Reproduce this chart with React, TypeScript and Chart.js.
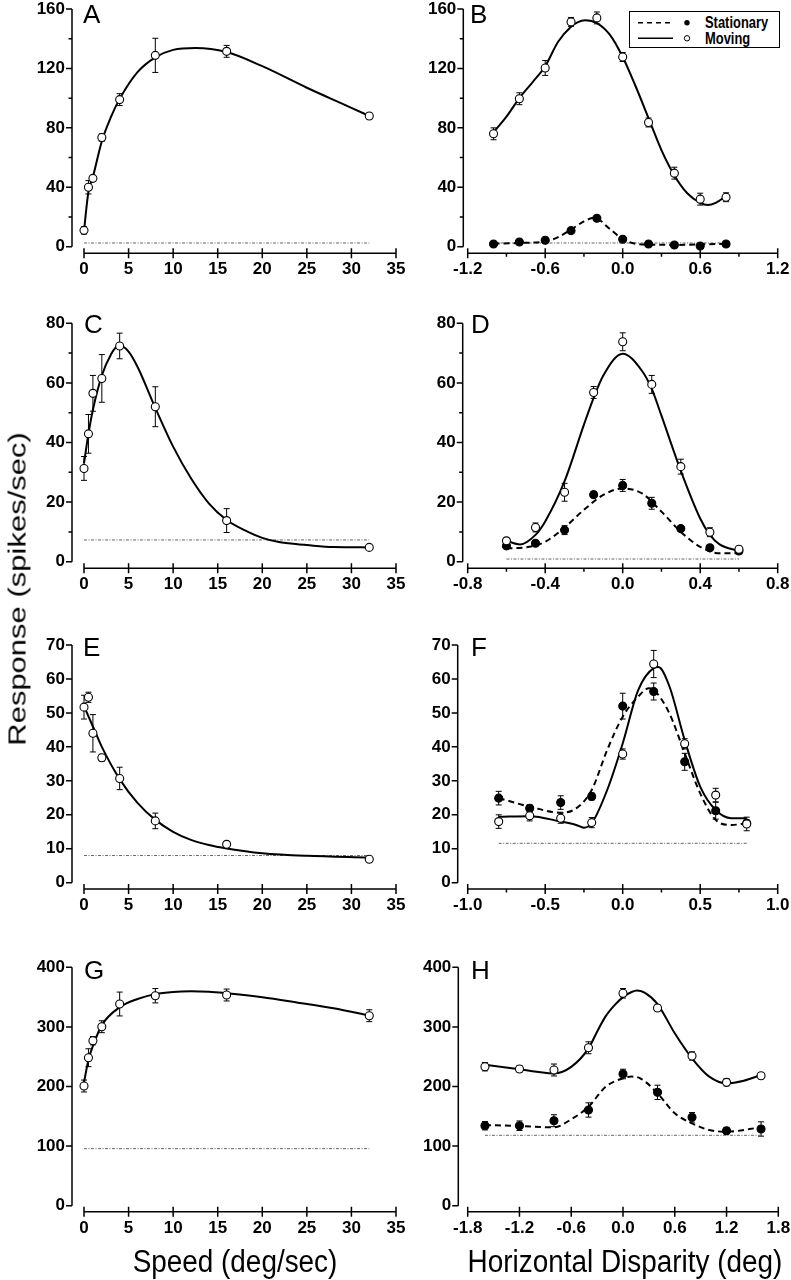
import React, { useEffect, useRef } from 'react';
import { Chart, registerables } from 'chart.js';

Chart.register(...registerables);

const FONT = '"Liberation Sans", Arial, Helvetica, sans-serif';

// ---------------- Speed panels (A, C, E, G) ----------------
const speedX = [0, 0.5, 1, 2, 4, 8, 16, 32];
const speedTicks = [0, 5, 10, 15, 20, 25, 30, 35];
const speedBaseX = [0, 32];

// A
const aResp = [11, 40, 46, 73.5, 99, 128.8, 131.5, 88];
const aErr = [2.5, 4.5, 2, 2.5, 4, 11.5, 4, 2];
const aFitX = [0, 0.25, 0.5, 1, 2, 3, 4, 6, 8, 10, 12.5, 16, 20, 25, 30, 32];
const aFitY = [10, 25, 37, 47, 71, 87, 99.5, 117.5, 127.5, 132.5, 133.8, 131, 121.5, 107, 93.5, 88];
const aBase = [2.5, 2.5];
const aTicksY = [0, 40, 80, 120, 160];
const aMinorY = [20, 60, 100, 140];

// C
const cResp = [31.3, 42.9, 56.5, 61.5, 72.4, 52, 13.8, 4.8];
const cErr = [4, 6.5, 6, 8, 4.3, 6.7, 4, 0.8];
const cFitX = [0, 0.5, 1, 2, 3, 3.9, 5, 6, 8, 10, 12, 14, 16, 18, 20, 22, 25, 28, 32];
const cFitY = [33, 43, 51, 62.5, 69.4, 72.6, 70.5, 65.4, 51.6, 38.6, 28, 19.6, 14, 10.6, 8, 6.5, 5.6, 4.9, 4.8];
const cBase = [7.3, 7.3];
const cTicksY = [0, 20, 40, 60, 80];
const cMinorY = [10, 30, 50, 70];

// E
const eResp = [51.7, 54.6, 44, 36.8, 30.7, 18.2, 11.3, 6.9];
const eErr = [3.5, 1.5, 5.5, 1, 3.3, 2.3, 0.8, 0.5];
const eFitX = [0, 0.5, 1, 2, 4, 6, 8, 10, 12, 14, 16, 20, 25, 32];
const eFitY = [52, 49, 46, 40, 30.5, 23.5, 18.5, 15, 12.6, 11.1, 10.1, 8.7, 7.9, 7.4];
const eBase = [8, 8];
const eTicksY = [0, 10, 20, 30, 40, 50, 60, 70];

// G
const gResp = [200.8, 248.3, 276.8, 300.3, 338.4, 352.3, 353.5, 318.8];
const gErr = [10, 15, 7, 10, 20, 12, 10, 10];
const gFitX = [0, 0.5, 1, 2, 4, 6, 8, 10, 12, 14, 16, 20, 24, 28, 32];
const gFitY = [207, 245, 268, 303, 333, 346.8, 355, 358.6, 359.7, 359, 356.4, 349.7, 340.7, 331.2, 319];
const gBase = [95.7, 95.7];
const gTicksY = [0, 100, 200, 300, 400];

// ---------------- Disparity panels (B, D, F, H) ----------------
// B
const bX = [-1.0, -0.8, -0.6, -0.4, -0.2, 0, 0.2, 0.4, 0.6, 0.8];
const bMoving = [76, 99.6, 120.3, 151.3, 154, 127.7, 83.6, 49.5, 32, 33.3];
const bMovErr = [4, 4, 5, 3, 4, 3, 3, 4, 4, 3];
const bStat = [1.8, 3.2, 4.3, 10.8, 19.1, 5, 1.8, 1.1, 0.5, 1.8];
const bStatErr = [1, 1, 1, 1, 1.2, 1, 1, 1, 1.5, 1];
const bMovFitX = [-1.0, -0.9, -0.8, -0.7, -0.6, -0.5, -0.4, -0.35, -0.29, -0.2, -0.1, 0, 0.1, 0.2, 0.3, 0.4, 0.5, 0.6, 0.66, 0.72, 0.8];
const bMovFitY = [77, 87.5, 100, 110.5, 121.5, 138, 148, 151, 152.4, 150.5, 142.7, 127.7, 108, 86.6, 65, 48, 36, 29.5, 28, 29.5, 34];
const bStatFitX = [-1.0, -0.8, -0.6, -0.5, -0.4, -0.3, -0.22, -0.1, 0, 0.1, 0.2, 0.4, 0.6, 0.8];
const bStatFitY = [2, 2.5, 3.5, 6.5, 11.5, 17, 19.5, 12, 5, 2, 1.5, 1.2, 1.5, 2];
const bBaseX = [-1.0, 0.8];
const bBase = [2.5, 2.5];
const bTicksX = [-1.2, -0.6, 0, 0.6, 1.2];
const bMinorX = [-0.9, -0.3, 0.3, 0.9];

// D
const dX = [-0.6, -0.45, -0.3, -0.15, 0, 0.15, 0.3, 0.45, 0.6];
const dMoving = [7, 11.5, 23.3, 56.8, 73.8, 59.5, 31.9, 9.9, 4.2];
const dMovErr = [1, 1.5, 3, 2, 3, 3, 2.5, 1.5, 1];
const dStat = [5.3, 6.2, 10.6, 22.5, 25.6, 19.6, 11.1, 4.7, 3.6];
const dStatErr = [0.8, 0.8, 1.5, 1, 2, 2, 1, 0.8, 0.8];
const dMovFitX = [-0.6, -0.53, -0.45, -0.4, -0.3, -0.2, -0.15, -0.1, 0, 0.1, 0.15, 0.2, 0.3, 0.4, 0.45, 0.5, 0.6];
const dMovFitY = [7, 5.8, 9, 13.5, 27, 46, 55, 62.5, 69.8, 64, 58, 49, 30.5, 14.5, 9, 5.8, 3.6];
const dStatFitX = [-0.6, -0.5, -0.4, -0.3, -0.2, -0.1, 0, 0.1, 0.2, 0.3, 0.4, 0.5, 0.6];
const dStatFitY = [4.5, 4.8, 6.7, 11.5, 17.4, 22.4, 24.6, 22.9, 16.8, 10, 5, 2.8, 2.8];
const dBaseX = [-0.6, 0.6];
const dBase = [0.9, 0.9];
const dTicksX = [-0.8, -0.4, 0, 0.4, 0.8];
const dMinorX = [-0.6, -0.2, 0.2, 0.6];

// F
const fX = [-0.8, -0.6, -0.4, -0.2, 0, 0.2, 0.4, 0.6, 0.8];
const fMoving = [18, 19.7, 19, 17.7, 37.9, 64.4, 40.9, 25.8, 17.3];
const fMovErr = [2, 1.5, 1.5, 1.5, 1.5, 4, 1.5, 2, 2];
const fStat = [24.9, 21.9, 23.6, 25.4, 52, 56.3, 35.6, 21.2, 17.5];
const fStatErr = [2, 1, 2, 1, 3.8, 2.5, 2.5, 2.5, 1];
const fMovFitX = [-0.8, -0.6, -0.4, -0.3, -0.25, -0.2, -0.1, 0, 0.1, 0.2, 0.23, 0.3, 0.4, 0.5, 0.6, 0.7, 0.8];
const fMovFitY = [19.4, 19.6, 18, 17, 16.2, 17.5, 27.3, 41, 56.7, 63.2, 63.5, 58, 42, 28.3, 21.4, 19, 19];
const fStatFitX = [-0.8, -0.6, -0.4, -0.3, -0.2, -0.1, 0, 0.1, 0.17, 0.2, 0.3, 0.4, 0.5, 0.6, 0.7, 0.8];
const fStatFitY = [24.9, 22.4, 20.6, 21.9, 27.3, 39.1, 48.9, 54.8, 57.3, 56.8, 50, 38.1, 26.3, 18.5, 17, 17.5];
const fBaseX = [-0.8, 0.8];
const fBase = [11.6, 11.6];
const fTicksX = [-1, -0.5, 0, 0.5, 1];
const fMinorX = [-0.75, -0.25, 0.25, 0.75];

// H
const hX = [-1.6, -1.2, -0.8, -0.4, 0, 0.4, 0.8, 1.2, 1.6];
const hMoving = [233.2, 229.4, 227.7, 265, 356.4, 331.7, 251.2, 207, 218.1];
const hMovErr = [7, 5, 10, 10, 8, 5, 7, 6, 5];
const hStat = [134.2, 134.2, 142.6, 160.6, 221, 190.2, 148.3, 125.8, 128.7];
const hStatErr = [7, 8, 10, 12, 8, 12, 8, 5, 12];
const hMovFitX = [-1.6, -1.2, -1.0, -0.8, -0.6, -0.4, -0.3, -0.2, -0.1, 0, 0.1, 0.16, 0.25, 0.4, 0.6, 0.8, 1.0, 1.2, 1.4, 1.6];
const hMovFitY = [236.6, 229, 224.8, 222, 233, 264, 292, 318, 336, 350, 358.5, 361, 357.5, 338.4, 289.3, 247.3, 216.5, 205.4, 209.7, 219.3];
const hStatFitX = [-1.6, -1.2, -0.8, -0.6, -0.4, -0.2, 0, 0.1, 0.2, 0.4, 0.6, 0.8, 1.0, 1.2, 1.6];
const hStatFitY = [135.4, 133.7, 131.5, 145, 166, 199.7, 213.8, 216.6, 213.8, 188.6, 155, 138.2, 127, 124.2, 131.5];
const hBaseX = [-1.6, 1.6];
const hBase = [118.1, 118.1];
const hTicksX = [-1.8, -1.2, -0.6, 0, 0.6, 1.2, 1.8];

// ---------------- Panel layout ----------------
type PointSet = { x: number[]; y: number[]; err: number[]; filled: boolean };
type Fit = { x: number[]; y: number[]; dashed: boolean };
type PanelDef = {
  id: string;
  axisX: number; axisY: number;
  px0: number; px1: number; py0: number; py1: number;
  xTicks: number[]; xMinor: number[]; xDec: number;
  yTicks: number[]; yMinor: number[];
  points: PointSet[];
  fits: Fit[];
  base: { x: number[]; y: number[] };
};

const ROWS = [
  { py1: 9, py0: 246.7, axisY: 253.3 },
  { py1: 323.3, py0: 561.7, axisY: 568.3 },
  { py1: 645, py0: 882.7, axisY: 889 },
  { py1: 967.3, py0: 1205.7, axisY: 1211.7 },
];

const LEFT = { axisX: 72, px0: 84, px1: 396 };

const PANELS: PanelDef[] = [
  {
    id: 'A', ...LEFT, ...ROWS[0], xTicks: speedTicks, xMinor: [], xDec: 0, yTicks: aTicksY, yMinor: aMinorY,
    points: [{ x: speedX, y: aResp, err: aErr, filled: false }],
    fits: [{ x: aFitX, y: aFitY, dashed: false }],
    base: { x: speedBaseX, y: aBase },
  },
  {
    id: 'B', axisX: 463.3, px0: 467.7, px1: 777.7, ...ROWS[0], xTicks: bTicksX, xMinor: bMinorX, xDec: 1, yTicks: aTicksY, yMinor: aMinorY,
    points: [{ x: bX, y: bMoving, err: bMovErr, filled: false }, { x: bX, y: bStat, err: bStatErr, filled: true }],
    fits: [{ x: bMovFitX, y: bMovFitY, dashed: false }, { x: bStatFitX, y: bStatFitY, dashed: true }],
    base: { x: bBaseX, y: bBase },
  },
  {
    id: 'C', ...LEFT, ...ROWS[1], xTicks: speedTicks, xMinor: [], xDec: 0, yTicks: cTicksY, yMinor: cMinorY,
    points: [{ x: speedX, y: cResp, err: cErr, filled: false }],
    fits: [{ x: cFitX, y: cFitY, dashed: false }],
    base: { x: speedBaseX, y: cBase },
  },
  {
    id: 'D', axisX: 462.7, px0: 467.7, px1: 777.7, ...ROWS[1], xTicks: dTicksX, xMinor: dMinorX, xDec: 1, yTicks: cTicksY, yMinor: cMinorY,
    points: [{ x: dX, y: dMoving, err: dMovErr, filled: false }, { x: dX, y: dStat, err: dStatErr, filled: true }],
    fits: [{ x: dMovFitX, y: dMovFitY, dashed: false }, { x: dStatFitX, y: dStatFitY, dashed: true }],
    base: { x: dBaseX, y: dBase },
  },
  {
    id: 'E', ...LEFT, ...ROWS[2], xTicks: speedTicks, xMinor: [], xDec: 0, yTicks: eTicksY, yMinor: [],
    points: [{ x: speedX, y: eResp, err: eErr, filled: false }],
    fits: [{ x: eFitX, y: eFitY, dashed: false }],
    base: { x: speedBaseX, y: eBase },
  },
  {
    id: 'F', axisX: 457.7, px0: 467.7, px1: 777.7, ...ROWS[2], xTicks: fTicksX, xMinor: fMinorX, xDec: 1, yTicks: eTicksY, yMinor: [],
    points: [{ x: fX, y: fMoving, err: fMovErr, filled: false }, { x: fX, y: fStat, err: fStatErr, filled: true }],
    fits: [{ x: fMovFitX, y: fMovFitY, dashed: false }, { x: fStatFitX, y: fStatFitY, dashed: true }],
    base: { x: fBaseX, y: fBase },
  },
  {
    id: 'G', ...LEFT, ...ROWS[3], xTicks: speedTicks, xMinor: [], xDec: 0, yTicks: gTicksY, yMinor: [],
    points: [{ x: speedX, y: gResp, err: gErr, filled: false }],
    fits: [{ x: gFitX, y: gFitY, dashed: false }],
    base: { x: speedBaseX, y: gBase },
  },
  {
    id: 'H', axisX: 458.3, px0: 467.7, px1: 778.3, ...ROWS[3], xTicks: hTicksX, xMinor: [], xDec: 1, yTicks: gTicksY, yMinor: [],
    points: [{ x: hX, y: hMoving, err: hMovErr, filled: false }, { x: hX, y: hStat, err: hStatErr, filled: true }],
    fits: [{ x: hMovFitX, y: hMovFitY, dashed: false }, { x: hStatFitX, y: hStatFitY, dashed: true }],
    base: { x: hBaseX, y: hBase },
  },
];

const LETTERS = [
  { t: 'A', x: 83, y: 5 }, { t: 'B', x: 470, y: 5 },
  { t: 'C', x: 84, y: 315 }, { t: 'D', x: 471, y: 315 },
  { t: 'E', x: 83, y: 638 }, { t: 'F', x: 471, y: 638 },
  { t: 'G', x: 84, y: 961 }, { t: 'H', x: 471, y: 961 },
];

const YW = 60;
const XH = 45;

function geom(p: PanelDef) {
  const cl = Math.floor(p.axisX - 75);
  const ct = Math.floor(p.py1 - 22);
  const cw = Math.ceil(p.px1 + 25) - cl;
  const ch = Math.ceil(p.axisY + 52) - ct;
  return { cl, ct, cw, ch };
}

function makeChart(canvas: HTMLCanvasElement, p: PanelDef) {
  const g = geom(p);
  const xt0 = p.xTicks[0];
  const xt1 = p.xTicks[p.xTicks.length - 1];
  const yt0 = p.yTicks[0];
  const yt1 = p.yTicks[p.yTicks.length - 1];
  const kx = (p.px1 - p.px0) / (xt1 - xt0);
  const xMin = xt0 - (p.px0 - p.axisX) / kx;
  const ky = (p.py0 - p.py1) / (yt1 - yt0);
  const yMin = yt0 - (p.axisY - p.py0) / ky;

  const datasets: any[] = [];
  p.points.forEach((s) => {
    datasets.push({
      data: s.x.map((x, i) => ({ x, y: s.y[i] })),
      errorBars: s.err,
      showLine: false,
      pointRadius: 4,
      pointHoverRadius: 4,
      pointBackgroundColor: s.filled ? '#000' : '#fff',
      pointBorderColor: '#000',
      pointBorderWidth: 1.1,
      clip: false,
    });
  });
  p.fits.forEach((f) => {
    datasets.push({
      data: f.x.map((x, i) => ({ x, y: f.y[i] })),
      borderColor: '#000',
      borderWidth: 2,
      borderDash: f.dashed ? [6, 4] : [],
      pointRadius: 0,
      cubicInterpolationMode: 'monotone',
      fill: false,
      clip: false,
    });
  });
  datasets.push({
    data: p.base.x.map((x, i) => ({ x, y: p.base.y[i] })),
    borderColor: '#666',
    borderWidth: 1,
    borderDash: [3, 1.5, 1, 1.5],
    pointRadius: 0,
    fill: false,
    clip: false,
  });

  const errPlugin = {
    id: 'errBars',
    beforeDatasetsDraw(chart: any) {
      const ctx = chart.ctx;
      const ys = chart.scales.y;
      ctx.save();
      ctx.strokeStyle = '#000';
      ctx.lineWidth = 1;
      chart.data.datasets.forEach((ds: any, di: number) => {
        if (!ds.errorBars) return;
        const meta = chart.getDatasetMeta(di);
        meta.data.forEach((el: any, j: number) => {
          const v = ds.data[j].y;
          const e = ds.errorBars[j];
          const px = el.x;
          const yTop = ys.getPixelForValue(v + e);
          const yBot = ys.getPixelForValue(v - e);
          ctx.beginPath();
          ctx.moveTo(px, yTop); ctx.lineTo(px, yBot);
          ctx.moveTo(px - 3, yTop); ctx.lineTo(px + 3, yTop);
          ctx.moveTo(px - 3, yBot); ctx.lineTo(px + 3, yBot);
          ctx.stroke();
        });
      });
      ctx.restore();
    },
  };

  const axesPlugin = {
    id: 'originAxes',
    afterDraw(chart: any) {
      const ctx = chart.ctx;
      const xs = chart.scales.x;
      const ys = chart.scales.y;
      const yb = chart.chartArea.bottom;
      const xl = chart.chartArea.left;
      ctx.save();
      ctx.strokeStyle = '#000';
      ctx.lineWidth = 1.5;
      ctx.beginPath();
      ctx.moveTo(xs.getPixelForValue(xt0), yb);
      ctx.lineTo(xs.getPixelForValue(xt1), yb);
      p.xTicks.forEach((v) => {
        const x = xs.getPixelForValue(v);
        ctx.moveTo(x, yb - 5); ctx.lineTo(x, yb + 5);
      });
      p.xMinor.forEach((v) => {
        const x = xs.getPixelForValue(v);
        ctx.moveTo(x, yb); ctx.lineTo(x, yb + 3.5);
      });
      ctx.moveTo(xl, ys.getPixelForValue(yt0));
      ctx.lineTo(xl, ys.getPixelForValue(yt1));
      p.yTicks.forEach((v) => {
        const y = ys.getPixelForValue(v);
        ctx.moveTo(xl - 6, y); ctx.lineTo(xl, y);
      });
      p.yMinor.forEach((v) => {
        const y = ys.getPixelForValue(v);
        ctx.moveTo(xl - 3.5, y); ctx.lineTo(xl, y);
      });
      ctx.stroke();
      ctx.restore();
    },
  };

  const tickFont = { family: FONT, size: 17, weight: 'bold' as const };

  return new Chart(canvas, {
    type: 'line',
    data: { datasets },
    options: {
      animation: false,
      responsive: false,
      devicePixelRatio: 1,
      events: [],
      layout: {
        padding: {
          left: p.axisX - YW - g.cl,
          right: g.cl + g.cw - p.px1,
          top: p.py1 - g.ct,
          bottom: g.ct + g.ch - p.axisY - XH,
        },
      },
      plugins: { legend: { display: false }, tooltip: { enabled: false } },
      scales: {
        x: {
          type: 'linear',
          position: 'bottom',
          min: xMin,
          max: xt1,
          bounds: 'data',
          afterBuildTicks: (s: any) => { s.ticks = p.xTicks.map((v) => ({ value: v })); },
          afterFit: (s: any) => { s.height = XH; },
          grid: { display: false, drawTicks: false },
          border: { display: false },
          ticks: {
            autoSkip: false,
            maxRotation: 0,
            padding: 6,
            color: '#000',
            font: tickFont,
            callback: (v: any) => (p.xDec ? Number(v).toFixed(p.xDec) : String(v)),
          },
        },
        y: {
          type: 'linear',
          position: 'left',
          min: yMin,
          max: yt1,
          bounds: 'data',
          afterBuildTicks: (s: any) => { s.ticks = p.yTicks.map((v) => ({ value: v })); },
          afterFit: (s: any) => { s.width = YW; },
          grid: { display: false, drawTicks: false },
          border: { display: false },
          ticks: {
            autoSkip: false,
            padding: 7,
            color: '#000',
            font: tickFont,
            callback: (v: any) => String(v),
          },
        },
      },
    } as any,
    plugins: [errPlugin, axesPlugin],
  });
}

export default function App() {
  const refs = useRef<(HTMLCanvasElement | null)[]>([]);

  useEffect(() => {
    const charts = PANELS.map((p, i) => makeChart(refs.current[i] as HTMLCanvasElement, p));
    return () => charts.forEach((c) => c.destroy());
  }, []);

  return (
    <div style={{ position: 'absolute', left: 0, top: 0, width: 791, height: 1280, background: '#fff', overflow: 'hidden', fontFamily: FONT, color: '#000' }}>
      {PANELS.map((p, i) => {
        const g = geom(p);
        return (
          <canvas
            key={p.id}
            ref={(el) => { refs.current[i] = el; }}
            width={g.cw}
            height={g.ch}
            style={{ position: 'absolute', left: g.cl, top: g.ct, width: g.cw, height: g.ch }}
          />
        );
      })}

      {LETTERS.map((l) => (
        <div key={l.t} style={{ position: 'absolute', left: l.x, top: l.y - 4, fontSize: 26, lineHeight: '26px', whiteSpace: 'nowrap' }}>
          {l.t}
        </div>
      ))}

      <div style={{ position: 'absolute', left: 16.5, top: 589, fontSize: 31, lineHeight: '31px', whiteSpace: 'nowrap', transform: 'translate(-50%, -50%) rotate(-90deg) scaleY(0.77)' }}>
        Response (spikes/sec)
      </div>
      <div style={{ position: 'absolute', left: 235, top: 1261, fontSize: 31, lineHeight: '31px', whiteSpace: 'nowrap', transform: 'translate(-50%, -50%) scaleX(0.9)' }}>
        Speed (deg/sec)
      </div>
      <div style={{ position: 'absolute', left: 625, top: 1261, fontSize: 31, lineHeight: '31px', whiteSpace: 'nowrap', transform: 'translate(-50%, -50%) scaleX(0.9)' }}>
        Horizontal Disparity (deg)
      </div>

      <div style={{ position: 'absolute', left: 629, top: 11, width: 151, height: 37, border: '1px solid #000', boxSizing: 'border-box', background: '#fff' }}>
        <svg width={149} height={35} style={{ position: 'absolute', left: 0, top: 0 }}>
          <line x1={8} y1={10.7} x2={43} y2={10.7} stroke="#000" strokeWidth={1.5} strokeDasharray="5 4" />
          <circle cx={57} cy={10.7} r={2.7} fill="#000" />
          <line x1={8} y1={26.3} x2={43} y2={26.3} stroke="#000" strokeWidth={1.5} />
          <circle cx={57} cy={26.3} r={2.7} fill="#fff" stroke="#000" strokeWidth={1} />
        </svg>
        <div style={{ position: 'absolute', left: 75, top: 2, fontSize: 17, fontWeight: 'bold', lineHeight: '17px', whiteSpace: 'nowrap', transform: 'scaleX(0.76)', transformOrigin: 'left center' }}>
          Stationary
        </div>
        <div style={{ position: 'absolute', left: 75, top: 17.6, fontSize: 17, fontWeight: 'bold', lineHeight: '17px', whiteSpace: 'nowrap', transform: 'scaleX(0.76)', transformOrigin: 'left center' }}>
          Moving
        </div>
      </div>
    </div>
  );
}
